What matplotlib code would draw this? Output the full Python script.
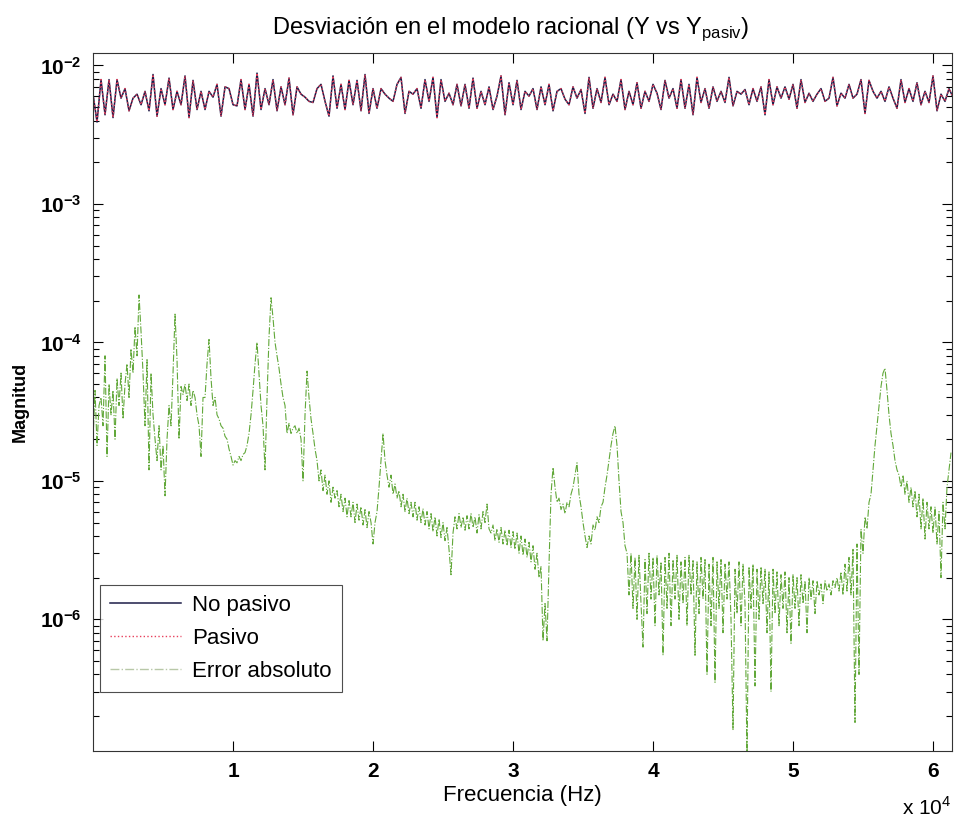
#!/usr/bin/env python
# coding: utf-8

import numpy as np
import matplotlib
matplotlib.use("Agg")
import matplotlib.pyplot as plt
from matplotlib.ticker import LogLocator, FixedLocator, NullFormatter

plt.rcParams['font.family'] = ['Liberation Sans', 'DejaVu Sans']

# Magnitud de Y (No pasivo / Pasivo), en unidades de 1e-3, paso de 2/7 kHz
top_step_hz = 2000.0 / 7
top_mag = [
    6.2, 3.9, 7.9, 4.4, 7.9, 4.2, 7.9, 5.8, 6.8, 4.7, 5.8, 6.2, 5.2, 6.5,
    4.7, 8.6, 4.3, 6.8, 5.2, 8.1, 4.8, 6.5, 5.2, 8.4, 4.2, 7.8, 4.8, 6.5,
    4.8, 6.5, 5.9, 7.3, 4.3, 7.0, 6.8, 5.2, 5.1, 7.9, 4.8, 7.3, 4.3, 8.8,
    4.8, 6.8, 5.2, 7.9, 4.7, 7.0, 5.2, 8.1, 4.4, 7.0, 6.2, 5.9,
    5.5, 5.4, 6.8, 7.3, 5.5, 4.3, 8.4, 4.9, 7.3, 4.8, 7.8, 5.2, 7.8, 4.7,
    8.6, 4.5, 6.8, 4.9, 6.8, 6.2, 5.8, 5.5, 7.3, 8.2, 4.5, 6.5, 6.2, 6.8,
    4.9, 7.9, 5.5, 8.2, 4.2, 7.9, 5.5, 6.3, 5.2, 7.3, 5.1, 7.3, 4.9, 8.1,
    4.9, 6.5, 5.2, 7.0, 4.8, 6.0, 8.4, 4.4, 7.5, 5.2, 7.8, 4.8, 6.5,
    6.0, 6.8, 4.8, 7.0, 5.2, 7.3, 4.7, 6.5, 6.8, 5.7, 5.2, 7.0, 5.8, 6.7,
    4.5, 8.2, 4.9, 6.8, 5.4, 8.2, 5.2, 6.2, 5.5, 7.9, 4.8, 6.5, 5.2, 7.5,
    4.9, 6.5, 5.5, 7.3, 6.3, 4.8, 7.8, 5.8, 6.8, 4.9, 7.9, 4.9, 7.3, 4.4,
    8.2, 5.4, 6.8, 4.9, 7.0, 5.5, 6.5, 5.4, 8.2, 5.1, 6.5, 6.2, 6.7,
    5.2, 6.8, 5.5, 7.0, 4.4, 7.9, 5.2, 7.0, 5.8, 7.0, 5.7, 7.3, 4.9, 7.9,
    5.4, 6.3, 5.5, 6.2, 6.8, 5.5, 5.8, 8.2, 5.1, 6.3, 5.8, 7.3, 5.8, 6.2,
    7.9, 4.5, 7.8, 6.5, 5.8, 6.5, 5.5, 7.0, 5.8, 4.9, 7.9, 5.4, 6.8, 5.5,
    7.5, 5.2, 6.5, 5.4, 8.4, 4.7, 6.2, 5.5, 6.8, 5.9,
]

# Error absoluto, en unidades de 1e-6, paso de 1/7 kHz (una fila = 2 kHz)
err_step_hz = 1000.0 / 7
err_mag = [
    20, 45, 18, 35, 40, 25, 80, 15, 50, 30, 45, 20, 55, 35,
    60, 28, 50, 70, 40, 90, 60, 130, 80, 220, 120, 60, 25, 75,
    12, 60, 30, 20, 14, 25, 12, 18, 7.8, 20, 35, 25, 60, 160,
    75, 20, 48, 42, 50, 38, 50, 35, 45, 40, 30, 25, 15, 40,
    40, 70, 105, 55, 35, 40, 30, 28, 25, 24, 21, 20, 17, 15,
    13, 14, 13.5, 15, 14, 15.5, 16, 18, 22, 30, 45, 70, 100, 60,
    35, 25, 12, 40, 110, 210, 150, 100, 80, 65, 50, 40, 35, 22,
    26, 22, 24, 25, 22, 24, 20, 10, 30, 62, 40, 28, 22, 17,
    14, 10, 12, 8.5, 11, 8, 10, 7, 9, 7.5, 8.5, 6.5, 8, 6,
    7.5, 5.5, 7.2, 5.5, 7, 5, 6.8, 5.2, 6.5, 4.8, 6.2, 4.6, 6, 5,
    3.5, 5, 6, 9, 14, 22, 14, 11, 9, 11, 8, 9.5, 7.5, 8.5,
    6.5, 8, 6, 7.5, 5.8, 7, 5.5, 7, 5.2, 6.5, 5, 6.3, 4.8, 6,
    4.5, 5.8, 4.3, 5.5, 4, 5.3, 3.9, 5, 3.7, 4.6, 3.2, 2.1, 4.2, 5.5,
    4.5, 5.8, 4.6, 5.5, 4.4, 5.6, 4.5, 5.8, 4.6, 5.5, 4.2, 5.7, 4.5, 6,
    5, 6.8, 4.5, 4.2, 4.8, 3.7, 4.5, 3.6, 4.6, 3.5, 4.4, 3.4, 4.4, 3.3,
    4.3, 3.2, 4.2, 3.0, 4.0, 2.9, 3.8, 2.8, 3.6, 2.6, 3.4, 2.3, 3.0, 2.0,
    2.4, 0.7, 1.3, 0.7, 2.5, 8, 12.5, 9, 7, 7.5, 6.2, 6.8, 5.8, 7,
    6.5, 8, 9, 11, 13.5, 8, 6.5, 5, 4, 3.3, 4, 3.5, 4.8, 4.4,
    5.5, 5, 6.5, 7, 9, 11, 14, 18, 22, 25, 18, 10, 6, 5,
    3.4, 3.0, 1.5, 3.0, 1.2, 2.8, 1.0, 2.9, 1.3, 0.63, 2.7, 1.1, 3.0, 1.4,
    2.8, 0.9, 2.9, 1.5, 2.6, 0.55, 2.8, 1.2, 3.0, 0.9, 2.7, 1.4, 2.9, 1.0,
    2.6, 1.3, 2.8, 0.9, 2.9, 1.5, 2.7, 0.55, 2.6, 1.1, 2.8, 1.4, 2.7, 0.4,
    2.5, 0.9, 2.8, 0.35, 2.6, 1.2, 2.7, 0.8, 2.5, 1.4, 2.6, 1.0, 0.16, 2.3,
    1.1, 2.6, 0.9, 2.5, 1.3, 0.1, 2.4, 1.2, 2.5, 0.33, 2.3, 1.0, 2.4, 1.3,
    2.3, 0.8, 2.2, 0.3, 2.3, 1.1, 2.2, 0.9, 2.1, 1.2, 2.2, 0.8, 2.0, 0.67,
    2.1, 1.2, 2.0, 0.9, 2.1, 1.3, 1.9, 0.8, 2.0, 1.4, 1.9, 1.1, 1.9, 1.5,
    1.8, 1.3, 1.9, 1.6, 1.8, 1.5, 1.9, 1.7, 2.0, 1.6, 2.2, 1.5, 2.5, 1.6,
    2.8, 1.5, 3.2, 0.18, 3.5, 0.4, 4.5, 3.0, 5.5, 4.5, 7, 8, 12, 18,
    25, 35, 48, 60, 65, 45, 30, 22, 18, 14, 12, 11, 9, 11,
    8, 10, 7, 9, 6.5, 8.5, 5.5, 8, 4.5, 7.5, 3.8, 7, 4.5, 6.5,
    4.2, 6.5, 3.5, 6, 2.0, 7, 4.5, 9, 12, 16,
]

x_ticks = [1e4, 2e4, 3e4, 4e4, 5e4, 6e4]
x_tick_labels = ['1', '2', '3', '4', '5', '6']


def main():
    f_top = np.arange(len(top_mag)) * top_step_hz
    y_top = np.array(top_mag) * 1e-3
    f_err = np.arange(len(err_mag)) * err_step_hz
    y_err = np.array(err_mag) * 1e-6

    fig = plt.figure(figsize=(9.64, 8.25), dpi=100)
    ax = fig.add_axes([0.0965, 0.0897, 0.8911, 0.8461])

    ax.semilogy(f_top, y_top, '-', color='#1c1c48', lw=1.1, label='No pasivo')
    ax.semilogy(f_top, y_top, ':', color='#e8405c', lw=1.0, label='Pasivo')
    ax.semilogy(f_err, y_err, '-.', color='#62a83a', lw=0.8, label='_nolegend_')
    # linea de leyenda mas clara, como en el original
    ax.plot([], [], '-.', color='#b8c8a8', lw=1.0, label='Error absoluto')

    ax.set_xlim(0, 61360)
    ax.set_ylim(1.12e-7, 1.23e-2)

    ax.xaxis.set_major_locator(FixedLocator(x_ticks))
    ax.set_xticklabels(x_tick_labels)
    ax.yaxis.set_major_locator(LogLocator(base=10, numticks=12))
    ax.yaxis.set_minor_locator(LogLocator(base=10, subs=np.arange(2, 10), numticks=12))
    ax.yaxis.set_minor_formatter(NullFormatter())

    ax.tick_params(which='both', direction='in', top=True, right=True,
                   labelsize=15, pad=8)
    ax.tick_params(which='major', length=7, width=0.8)
    ax.tick_params(which='minor', length=4, width=0.8)
    for lab in ax.get_xticklabels() + ax.get_yticklabels():
        lab.set_fontweight('bold')
    for s in ax.spines.values():
        s.set_linewidth(0.8)
        s.set_color('#333333')

    ax.set_title('Desviación en el modelo racional (Y vs Y$_{\\mathregular{pasiv}}$)',
                 fontsize=17, pad=14, x=0.486)
    ax.set_xlabel('Frecuencia (Hz)', fontsize=16, labelpad=3)
    ax.set_ylabel('Magnitud', fontsize=13, fontweight='bold', labelpad=8)
    fig.text(0.987, 0.008, 'x 10$^{\\mathregular{4}}$', fontsize=15,
             ha='right', va='bottom')

    leg = ax.legend(loc='lower left', bbox_to_anchor=(0.008, 0.0845),
                    borderaxespad=0, fontsize=16, frameon=True, fancybox=False,
                    handlelength=3.2, handletextpad=0.5, borderpad=0.45,
                    labelspacing=0.55)
    leg.get_frame().set_edgecolor('#222222')
    leg.get_frame().set_linewidth(0.8)

    plt.savefig('out.png', dpi=100)


if __name__ == "__main__":
    main()
